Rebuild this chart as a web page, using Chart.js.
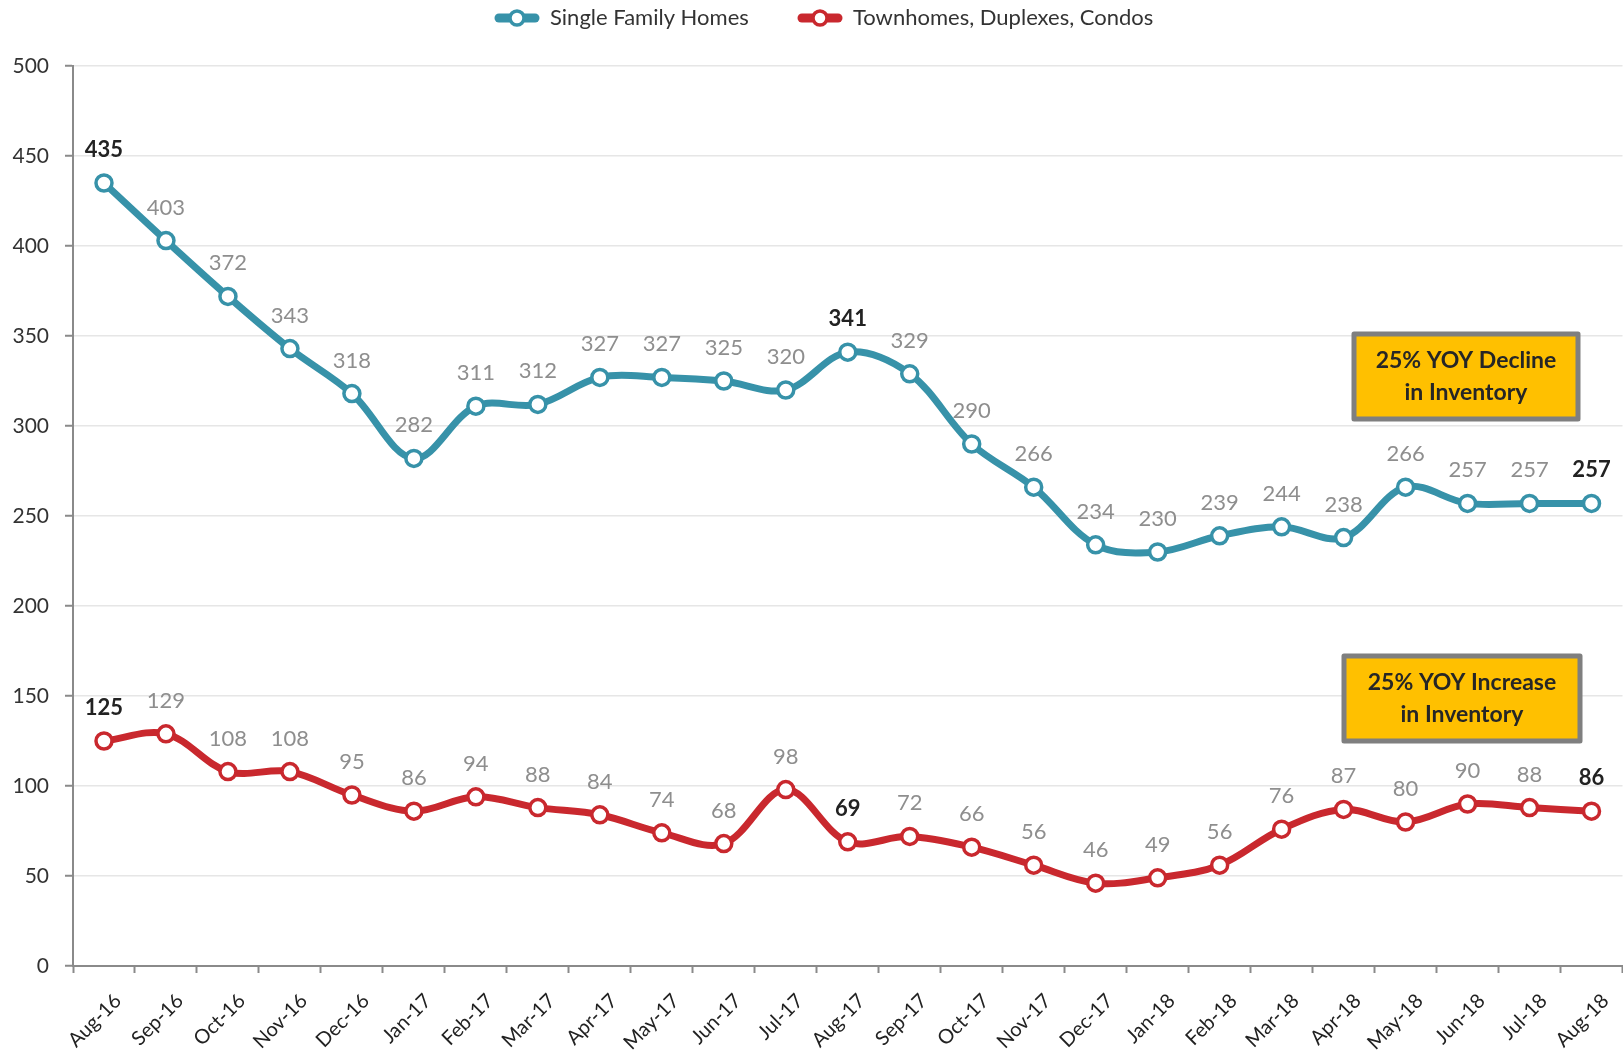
<!DOCTYPE html>
<html>
<head>
<meta charset="utf-8">
<script src="https://cdn.jsdelivr.net/npm/chart.js@4.4.0/dist/chart.umd.min.js"></script>
<style>
  html, body { margin: 0; padding: 0; background: #fff; overflow: hidden; }
</style>
</head>
<body>
<!-- a little wider than the window so the plot area runs to the right edge -->
<canvas id="inventoryChart" width="1634" height="1054"></canvas>
<script>
// Inventory data, Aug-16 .. Aug-18
const months = ['Aug-16', 'Sep-16', 'Oct-16', 'Nov-16', 'Dec-16', 'Jan-17', 'Feb-17', 'Mar-17', 'Apr-17',
    'May-17', 'Jun-17', 'Jul-17', 'Aug-17', 'Sep-17', 'Oct-17', 'Nov-17', 'Dec-17', 'Jan-18', 'Feb-18',
    'Mar-18', 'Apr-18', 'May-18', 'Jun-18', 'Jul-18', 'Aug-18'];
const singleFamily = [435, 403, 372, 343, 318, 282, 311, 312, 327, 327, 325, 320, 341, 329, 290, 266,
    234, 230, 239, 244, 238, 266, 257, 257, 257];
const townhomes = [125, 129, 108, 108, 95, 86, 94, 88, 84, 74, 68, 98, 69, 72, 66, 56,
    46, 49, 56, 76, 87, 80, 90, 88, 86];
const boldPoints = [0, 12, 24];
const yMin = 0, yMax = 500, yStep = 50;

const TEAL = '#3792a9';
const RED = '#c9282e';
const FONT = 'Lato, "Open Sans", sans-serif';

// legend drawn by hand: line + hollow circle, then the label
const customLegend = {
    id: 'customLegend',
    afterDraw(chart) {
        const ctx = chart.ctx;
        const items = [
            { x: 495, ds: chart.data.datasets[0] },
            { x: 798, ds: chart.data.datasets[1] }
        ];
        const y = 18;
        ctx.save();
        items.forEach(it => {
            const color = it.ds.borderColor;
            ctx.strokeStyle = color;
            ctx.lineCap = 'round';
            ctx.lineWidth = 9;
            ctx.beginPath(); ctx.moveTo(it.x + 4, y); ctx.lineTo(it.x + 40, y); ctx.stroke();
            ctx.fillStyle = '#fff';
            ctx.lineWidth = 3.5;
            ctx.beginPath(); ctx.arc(it.x + 22, y, 7, 0, Math.PI * 2); ctx.fill(); ctx.stroke();
            ctx.fillStyle = '#333';
            ctx.font = '22px ' + FONT;
            ctx.textAlign = 'left';
            ctx.textBaseline = 'middle';
            ctx.fillText(it.ds.label, it.x + 55, y);
        });
        ctx.restore();
    }
};

// value labels above each point
const pointLabels = {
    id: 'pointLabels',
    afterDatasetsDraw(chart) {
        const ctx = chart.ctx;
        ctx.save();
        ctx.textAlign = 'center';
        ctx.textBaseline = 'middle';
        chart.data.datasets.forEach((ds, di) => {
            const meta = chart.getDatasetMeta(di);
            meta.data.forEach((pt, i) => {
                const bold = boldPoints.includes(i);
                ctx.font = (bold ? 'bold 22px ' : '22px ') + FONT;
                ctx.fillStyle = bold ? '#222' : '#8e8e8e';
                ctx.fillText(ds.data[i], pt.x, pt.y - 33);
            });
        });
        ctx.restore();
    }
};

// the two yellow call-out boxes
const callouts = {
    id: 'callouts',
    afterDraw(chart) {
        const ctx = chart.ctx;
        const boxes = [
            { x: 1354, y: 334, w: 224, h: 85, lines: ['25% YOY Decline', 'in Inventory'] },
            { x: 1344, y: 656, w: 236, h: 85, lines: ['25% YOY Increase', 'in Inventory'] }
        ];
        ctx.save();
        boxes.forEach(b => {
            ctx.fillStyle = '#ffc000';
            ctx.fillRect(b.x, b.y, b.w, b.h);
            ctx.strokeStyle = '#7f7f7f';
            ctx.lineWidth = 5;
            ctx.lineJoin = 'round';
            ctx.strokeRect(b.x, b.y, b.w, b.h);
            ctx.fillStyle = '#262626';
            ctx.font = 'bold 23px ' + FONT;
            ctx.textAlign = 'center';
            ctx.textBaseline = 'middle';
            ctx.fillText(b.lines[0], b.x + b.w / 2, b.y + 27);
            ctx.fillText(b.lines[1], b.x + b.w / 2, b.y + 59);
        });
        ctx.restore();
    }
};

function lineDataset(label, data, color) {
    return {
        label: label,
        data: data,
        borderColor: color,
        backgroundColor: '#fff',
        borderWidth: 7,
        tension: 0.35,
        pointRadius: 8,
        pointBorderWidth: 3.5,
        pointBackgroundColor: '#fff',
        pointBorderColor: color
    };
}

const chart = new Chart(document.getElementById('inventoryChart'), {
    type: 'line',
    data: {
        labels: months,
        datasets: [
            lineDataset('Single Family Homes', singleFamily, TEAL),
            lineDataset('Townhomes, Duplexes, Condos', townhomes, RED)
        ]
    },
    options: {
        responsive: false,
        animation: false,
        devicePixelRatio: 1,
        layout: { padding: { left: 0, right: 0, top: 66, bottom: 0 } },
        plugins: {
            legend: { display: false },
            tooltip: { enabled: false }
        },
        scales: {
            x: {
                offset: true,
                grid: {
                    offset: true,
                    drawOnChartArea: false,
                    tickLength: 7,
                    tickColor: '#8a8a8a',
                    tickWidth: 2
                },
                border: { color: '#8a8a8a', width: 2 },
                ticks: {
                    maxRotation: 45,
                    minRotation: 45,
                    autoSkip: false,
                    color: '#222',
                    padding: 16,
                    labelOffset: 14,
                    font: { family: FONT, size: 20 }
                },
                afterFit(scale) {
                    scale.height = 88;
                }
            },
            y: {
                min: yMin,
                max: yMax,
                ticks: {
                    stepSize: yStep,
                    color: '#333',
                    padding: 16,
                    font: { family: FONT, size: 21 }
                },
                grid: {
                    color: '#e6e6e6',
                    lineWidth: 1.5,
                    borderDash: [9, 7],
                    tickLength: 8,
                    tickColor: '#8a8a8a',
                    tickWidth: 2,
                    tickBorderDash: []
                },
                border: { color: '#8a8a8a', width: 2 },
                afterFit(scale) {
                    scale.width = 73;
                }
            }
        }
    },
    plugins: [pointLabels, callouts, customLegend]
});
</script>
</body>
</html>
